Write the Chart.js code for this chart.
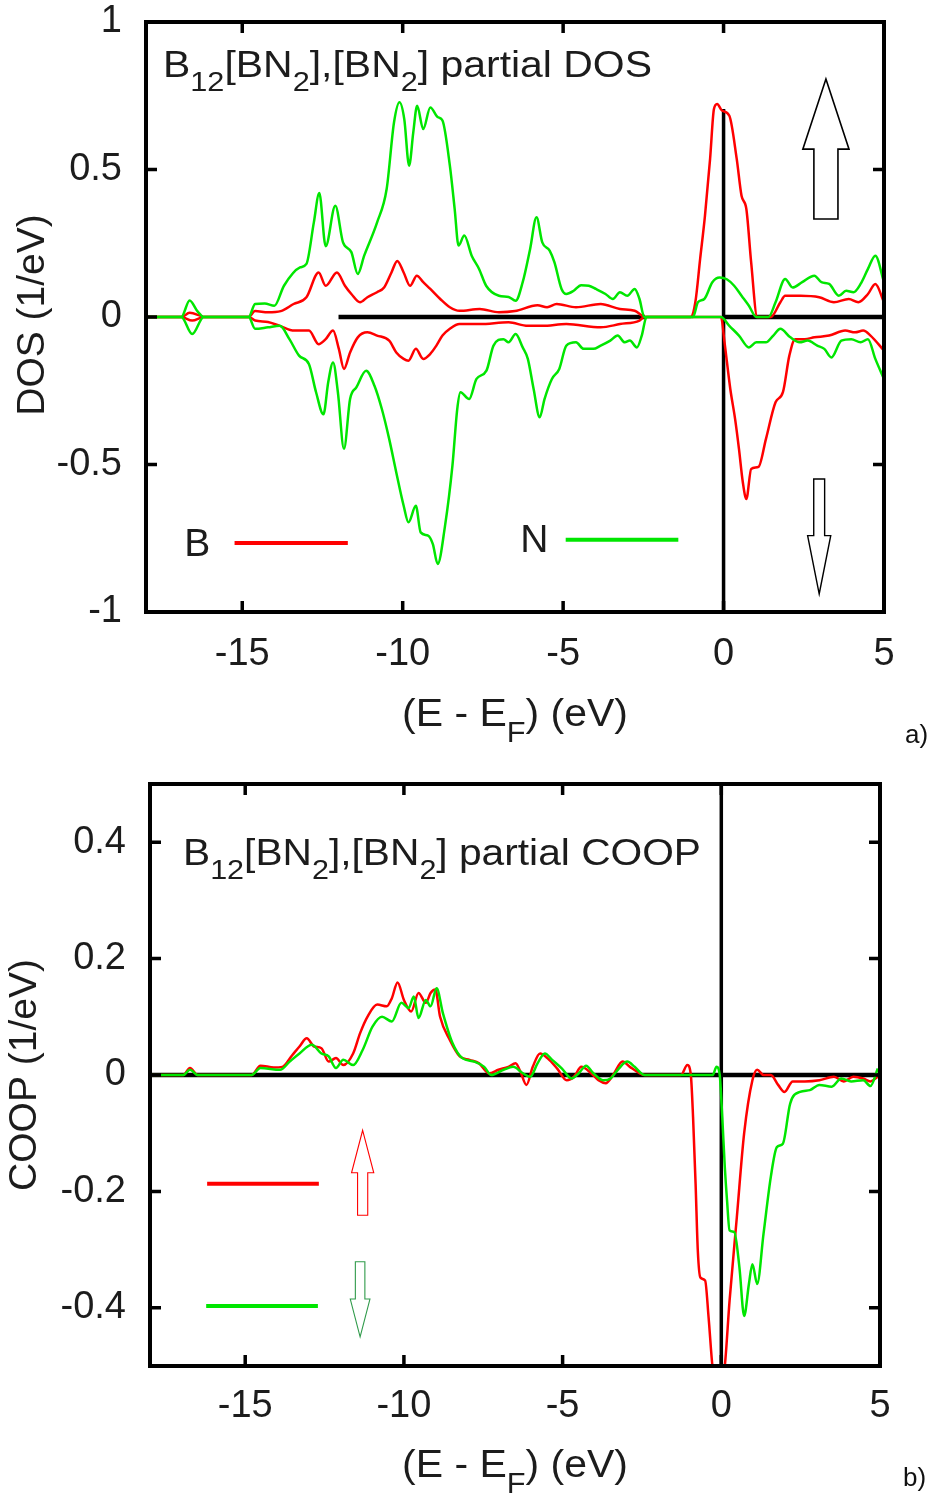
<!DOCTYPE html>
<html>
<head>
<meta charset="utf-8">
<script src="https://cdn.jsdelivr.net/npm/chart.js@4.4.1/dist/chart.umd.min.js"></script>
<style>
  html, body { margin: 0; padding: 0; background: #fff; }
  #page { position: relative; width: 935px; height: 1495px; overflow: hidden; }
  canvas { position: absolute; left: 0; }
  #dosChart { top: 0; }
  #coopChart { top: 750px; }
  .tag { position: absolute; font: 26px "Liberation Sans", Arial, sans-serif; line-height: 1; color: #111; }
</style>
</head>
<body>
<div id="page">
  <canvas id="dosChart" width="935" height="750"></canvas>
  <canvas id="coopChart" width="935" height="745"></canvas>
  <div class="tag" style="left:905px; top:721px;">a)</div>
  <div class="tag" style="left:903px; top:1464px;">b)</div>
</div>
<script>
// --- ticks ---
const energyTicks = [-15, -10, -5, 0, 5];
const dosTicks = [-1, -0.5, 0, 0.5, 1];
const coopTicks = [-0.4, -0.2, 0, 0.2, 0.4];

// --- partial DOS, [E (eV), DOS (1/eV)] ---
const dosBUp = [[-18,0],[-16.9,0],[-16.64,0.014],[-16.3,0.004],[-16.2,0],[-14.8,0],[-14.6,0.02],[-14.2,0.016],[-13.8,0.02],[-13.4,0.044],[-13.0,0.067],[-12.62,0.151],[-12.4,0.106],[-12.05,0.151],[-11.8,0.106],[-11.6,0.078],[-11.33,0.05],[-11.1,0.067],[-10.8,0.084],[-10.58,0.1],[-10.35,0.151],[-10.17,0.19],[-9.97,0.151],[-9.77,0.106],[-9.56,0.14],[-9.36,0.118],[-9.14,0.095],[-8.83,0.061],[-8.53,0.033],[-8.23,0.021],[-7.6,0.027],[-7.0,0.016],[-6.5,0.02],[-5.8,0.04],[-5.5,0.033],[-5.2,0.044],[-4.6,0.033],[-3.83,0.044],[-3.23,0.027],[-2.77,0.021],[-2.55,0.005],[-2.47,0],[-1.03,0],[-0.88,0.05],[-0.73,0.197],[-0.58,0.343],[-0.42,0.536],[-0.3,0.705],[-0.2,0.722],[-0.05,0.7],[0.18,0.682],[0.41,0.536],[0.56,0.411],[0.71,0.366],[0.86,0.185],[1.05,0],[1.47,0],[1.77,0.05],[1.92,0.072],[2.4,0.072],[2.98,0.067],[3.44,0.05],[3.9,0.061],[4.2,0.05],[4.5,0.078],[4.73,0.112],[5.0,0.05]];
const dosBDown = [[-18,0],[-16.9,0],[-16.56,-0.012],[-16.2,0],[-14.8,0],[-14.6,-0.012],[-14.2,-0.017],[-13.83,-0.03],[-13.38,-0.046],[-12.92,-0.046],[-12.62,-0.092],[-12.4,-0.075],[-12.17,-0.046],[-11.99,-0.108],[-11.83,-0.176],[-11.64,-0.12],[-11.4,-0.069],[-11.1,-0.052],[-10.8,-0.063],[-10.42,-0.08],[-10.2,-0.12],[-9.97,-0.142],[-9.82,-0.148],[-9.59,-0.108],[-9.36,-0.142],[-9.14,-0.125],[-8.95,-0.097],[-8.76,-0.063],[-8.53,-0.04],[-8.23,-0.024],[-7.6,-0.024],[-6.7,-0.018],[-6.1,-0.03],[-5.65,-0.03],[-4.9,-0.024],[-3.83,-0.035],[-3.23,-0.024],[-2.62,-0.012],[-2.47,0],[-0.08,0],[0.03,-0.086],[0.21,-0.244],[0.36,-0.346],[0.48,-0.447],[0.6,-0.56],[0.71,-0.617],[0.86,-0.515],[1.09,-0.508],[1.32,-0.414],[1.62,-0.289],[1.85,-0.255],[2.05,-0.131],[2.23,-0.075],[2.53,-0.075],[2.83,-0.069],[3.29,-0.063],[3.79,-0.046],[4.1,-0.052],[4.35,-0.046],[4.58,-0.063],[5.0,-0.114]];
const dosNUp = [[-18,0],[-16.9,0],[-16.64,0.056],[-16.4,0.02],[-16.2,0],[-14.8,0],[-14.6,0.044],[-14.3,0.046],[-14.0,0.038],[-13.7,0.106],[-13.2,0.168],[-13.0,0.18],[-12.77,0.32],[-12.6,0.42],[-12.4,0.24],[-12.1,0.377],[-11.86,0.253],[-11.6,0.22],[-11.4,0.146],[-11.2,0.208],[-10.8,0.32],[-10.5,0.434],[-10.27,0.66],[-10.1,0.728],[-9.95,0.67],[-9.8,0.513],[-9.67,0.626],[-9.55,0.716],[-9.36,0.637],[-9.14,0.71],[-8.9,0.677],[-8.76,0.666],[-8.53,0.513],[-8.38,0.366],[-8.26,0.242],[-8.08,0.276],[-7.85,0.208],[-7.62,0.163],[-7.4,0.106],[-7.0,0.072],[-6.7,0.068],[-6.48,0.055],[-6.26,0.118],[-6.03,0.23],[-5.83,0.338],[-5.65,0.253],[-5.42,0.225],[-5.27,0.185],[-5.05,0.095],[-4.9,0.078],[-4.67,0.089],[-4.44,0.108],[-4.2,0.106],[-3.98,0.095],[-3.68,0.078],[-3.45,0.061],[-3.23,0.084],[-3.0,0.072],[-2.77,0.095],[-2.62,0.061],[-2.47,0],[-0.95,0],[-0.8,0.05],[-0.6,0.061],[-0.35,0.118],[-0.12,0.134],[0.1,0.128],[0.33,0.106],[0.56,0.072],[0.79,0.038],[1.02,0],[1.4,0],[1.62,0.05],[1.92,0.129],[2.15,0.1],[2.45,0.118],[2.83,0.14],[3.05,0.118],[3.29,0.112],[3.59,0.072],[3.82,0.089],[4.05,0.084],[4.27,0.112],[4.5,0.163],[4.73,0.208],[5.0,0.118]];
const dosNDown = [[-18,0],[-16.9,0],[-16.56,-0.058],[-16.2,0],[-14.8,0],[-14.6,-0.04],[-14.2,-0.035],[-13.83,-0.03],[-13.53,-0.075],[-13.23,-0.131],[-12.92,-0.16],[-12.7,-0.255],[-12.47,-0.33],[-12.32,-0.22],[-12.17,-0.154],[-12.02,-0.255],[-11.83,-0.447],[-11.64,-0.278],[-11.44,-0.238],[-11.14,-0.182],[-10.88,-0.233],[-10.65,-0.312],[-10.42,-0.414],[-10.2,-0.527],[-9.97,-0.64],[-9.82,-0.696],[-9.59,-0.64],[-9.44,-0.73],[-9.21,-0.741],[-9.06,-0.77],[-8.91,-0.837],[-8.68,-0.707],[-8.45,-0.504],[-8.3,-0.312],[-8.2,-0.255],[-7.93,-0.278],[-7.7,-0.21],[-7.39,-0.182],[-7.17,-0.097],[-6.86,-0.075],[-6.7,-0.086],[-6.48,-0.058],[-6.26,-0.103],[-6.1,-0.142],[-5.92,-0.244],[-5.73,-0.34],[-5.58,-0.278],[-5.35,-0.21],[-5.12,-0.176],[-4.9,-0.097],[-4.6,-0.086],[-4.36,-0.108],[-4.06,-0.108],[-3.83,-0.097],[-3.53,-0.08],[-3.3,-0.063],[-3.08,-0.086],[-2.92,-0.08],[-2.7,-0.103],[-2.55,-0.063],[-2.4,0],[-0.08,0],[0.18,-0.03],[0.48,-0.063],[0.79,-0.103],[1.02,-0.086],[1.32,-0.086],[1.55,-0.063],[1.77,-0.04],[2.07,-0.068],[2.37,-0.086],[2.62,-0.08],[2.92,-0.097],[3.14,-0.108],[3.36,-0.137],[3.67,-0.08],[3.98,-0.075],[4.27,-0.086],[4.5,-0.075],[4.73,-0.142],[5.0,-0.21]];

// --- partial COOP, [E (eV), COOP (1/eV)] ---
const coopUp = [[-18,0],[-16.95,0],[-16.74,0.012],[-16.5,0],[-14.8,0],[-14.52,0.016],[-14.1,0.013],[-13.83,0.014],[-13.52,0.034],[-13.29,0.049],[-13.06,0.063],[-12.83,0.049],[-12.6,0.046],[-12.37,0.023],[-12.14,0.029],[-11.91,0.017],[-11.6,0.037],[-11.38,0.072],[-11.15,0.1],[-10.84,0.121],[-10.54,0.118],[-10.38,0.132],[-10.2,0.159],[-10.0,0.129],[-9.77,0.109],[-9.54,0.141],[-9.31,0.124],[-9.16,0.141],[-9.01,0.147],[-8.86,0.1],[-8.55,0.06],[-8.24,0.032],[-7.93,0.026],[-7.63,0.02],[-7.32,0.003],[-7.02,0.009],[-6.71,0.014],[-6.48,0.02],[-6.33,0.006],[-6.14,-0.017],[-5.94,0.014],[-5.71,0.037],[-5.48,0.029],[-5.17,0.011],[-4.87,-0.009],[-4.64,-0.003],[-4.41,0.014],[-4.1,0.003],[-3.87,-0.009],[-3.64,-0.014],[-3.41,0],[-3.11,0.023],[-2.88,0.014],[-2.57,0.003],[-2.4,0],[-1.27,0],[-1.07,0.017],[-0.96,0],[-0.89,-0.072],[-0.81,-0.187],[-0.74,-0.302],[-0.66,-0.348],[-0.51,-0.353],[-0.4,-0.417],[-0.28,-0.5],[-0.1,-0.56],[0.11,-0.5],[0.26,-0.388],[0.49,-0.244],[0.72,-0.1],[0.98,-0.009],[1.13,0.009],[1.33,0],[1.56,0],[1.79,-0.017],[1.99,-0.029],[2.25,-0.011],[2.63,-0.011],[3.09,-0.009],[3.55,-0.003],[3.86,-0.011],[4.16,-0.003],[4.47,-0.006],[4.7,-0.011],[4.93,-0.003]];
const coopDown = [[-18,0],[-16.95,0],[-16.74,0.009],[-16.5,0],[-14.8,0],[-14.52,0.012],[-13.9,0.009],[-13.6,0.023],[-13.29,0.037],[-12.9,0.052],[-12.6,0.037],[-12.37,0.032],[-12.14,0.012],[-11.91,0.026],[-11.6,0.017],[-11.3,0.043],[-10.99,0.083],[-10.69,0.1],[-10.38,0.092],[-10.08,0.124],[-9.85,0.115],[-9.69,0.135],[-9.54,0.098],[-9.31,0.129],[-9.16,0.118],[-8.97,0.149],[-8.77,0.106],[-8.47,0.055],[-8.16,0.029],[-7.78,0.023],[-7.47,0.014],[-7.25,0],[-6.86,0.009],[-6.56,0.014],[-6.25,0.003],[-6.02,-0.003],[-5.79,0.02],[-5.56,0.037],[-5.33,0.026],[-5.02,0.011],[-4.72,-0.006],[-4.49,0.003],[-4.26,0.016],[-4.03,0.003],[-3.72,-0.009],[-3.49,-0.006],[-3.26,0.009],[-2.96,0.023],[-2.73,0.014],[-2.42,0],[-0.27,0],[-0.15,0.014],[-0.05,0],[0.03,-0.072],[0.11,-0.158],[0.18,-0.215],[0.26,-0.267],[0.41,-0.27],[0.57,-0.33],[0.72,-0.414],[0.87,-0.359],[0.98,-0.325],[1.13,-0.359],[1.33,-0.273],[1.56,-0.175],[1.75,-0.124],[1.94,-0.118],[2.17,-0.049],[2.48,-0.029],[2.79,-0.026],[3.09,-0.017],[3.48,-0.02],[3.78,-0.006],[4.09,-0.011],[4.47,-0.009],[4.7,-0.019],[4.93,0.011]];

// --- reference lines (E_F and zero) ---
const dosFermi = [[0,-1],[0,0.705]];
const dosZeroLeft = [[-12,0],[-2.45,0]];
const dosZeroRight = [[0,0],[5,0]];
const coopFermi = [[0,-0.5],[0,0.5]];
const coopZero = [[-18,0],[5,0]];

const FONT = '"Liberation Sans", Arial, sans-serif';
const RED = '#ff0000';
const GREEN = '#00e600';
const INK = '#1c1c1c';

// text with subscripts: parts = [[text, isSub], ...]
function drawRich(ctx, parts, x, y, size, opt = {}) {
  const subSize = size * 0.75, drop = size * 0.4;
  let w = 0;
  parts.forEach(([t, sub]) => {
    ctx.font = `${sub ? subSize : size}px ${FONT}`;
    w += ctx.measureText(t).width;
  });
  const sx = opt.width ? opt.width / w : 1;
  const x0 = opt.center ? x - (w * sx) / 2 : x;
  ctx.save();
  ctx.translate(x0, y);
  ctx.scale(sx, 1);
  ctx.fillStyle = INK;
  ctx.textAlign = 'left';
  ctx.textBaseline = 'alphabetic';
  let cx = 0;
  parts.forEach(([t, sub]) => {
    ctx.font = `${sub ? subSize : size}px ${FONT}`;
    ctx.fillText(t, cx, sub ? drop : 0);
    cx += ctx.measureText(t).width;
  });
  ctx.restore();
}

function drawArrow(ctx, x, y, a) {
  const cx = x.getPixelForValue(a.e);
  const hh = Math.abs(x.getPixelForValue(a.e + a.head) - cx);
  const sh = Math.abs(x.getPixelForValue(a.e + a.shaft) - cx);
  const tip = y.getPixelForValue(a.tip);
  const base = y.getPixelForValue(a.base);
  const tail = y.getPixelForValue(a.tail);
  ctx.beginPath();
  ctx.moveTo(cx, tip);
  ctx.lineTo(cx + hh, base);
  ctx.lineTo(cx + sh, base);
  ctx.lineTo(cx + sh, tail);
  ctx.lineTo(cx - sh, tail);
  ctx.lineTo(cx - sh, base);
  ctx.lineTo(cx - hh, base);
  ctx.closePath();
  ctx.fillStyle = '#fff';
  ctx.fill();
  ctx.strokeStyle = a.color;
  ctx.lineWidth = a.lw;
  ctx.stroke();
}

const decor = {
  id: 'decor',
  afterDraw(chart, args, o) {
    const { ctx, chartArea: a } = chart;
    const { x, y } = chart.scales;
    ctx.save();

    // legend keys
    (o.keys || []).forEach(k => {
      const py = y.getPixelForValue(k.y);
      ctx.strokeStyle = k.color;
      ctx.lineWidth = 4;
      ctx.beginPath();
      ctx.moveTo(x.getPixelForValue(k.from), py);
      ctx.lineTo(x.getPixelForValue(k.to), py);
      ctx.stroke();
      if (k.label) {
        ctx.fillStyle = INK;
        ctx.font = `39px ${FONT}`;
        ctx.textAlign = 'center';
        ctx.textBaseline = 'middle';
        ctx.fillText(k.label, x.getPixelForValue(k.labelE), py + 2);
      }
    });

    (o.arrows || []).forEach(ar => drawArrow(ctx, x, y, ar));

    // frame with inward ticks on all four sides
    ctx.strokeStyle = '#000';
    ctx.lineWidth = 4;
    ctx.strokeRect(a.left, a.top, a.right - a.left, a.bottom - a.top);
    ctx.lineWidth = 3.5;
    ctx.beginPath();
    x.ticks.forEach(t => {
      const px = x.getPixelForValue(t.value);
      ctx.moveTo(px, a.bottom); ctx.lineTo(px, a.bottom - 11);
      ctx.moveTo(px, a.top); ctx.lineTo(px, a.top + 11);
    });
    y.ticks.forEach(t => {
      const py = y.getPixelForValue(t.value);
      ctx.moveTo(a.left, py); ctx.lineTo(a.left + 11, py);
      ctx.moveTo(a.right, py); ctx.lineTo(a.right - 11, py);
    });
    ctx.stroke();

    // titles
    drawRich(ctx, o.title, o.titleX, o.titleY, 36, { width: o.titleW });
    drawRich(ctx, [['(E - E', 0], ['F', 1], [') (eV)', 0]], 515, o.xTitleY, 39, { center: true, width: 226 });
    ctx.save();
    ctx.translate(o.yTitleX, o.yTitleY);
    ctx.rotate(-Math.PI / 2);
    ctx.fillStyle = INK;
    ctx.font = `39px ${FONT}`;
    ctx.textAlign = 'center';
    ctx.textBaseline = 'middle';
    ctx.fillText(o.yTitle, 0, 0);
    ctx.restore();

    ctx.restore();
  }
};

function curve(data, color, order) {
  return { data, borderColor: color, borderWidth: 2.5, pointRadius: 0, fill: false,
           cubicInterpolationMode: 'monotone', order };
}
function refLine(data, width) {
  return { data, borderColor: '#000', borderWidth: width, pointRadius: 0, fill: false, order: 10 };
}

function axes(ticksY, ymin, ymax, yWidth, xHeight, xPad) {
  return {
    x: {
      type: 'linear', min: -18, max: 5,
      afterBuildTicks: s => { s.ticks = energyTicks.map(v => ({ value: v })); },
      afterFit: s => { s.height = xHeight; s.paddingLeft = 0; s.paddingRight = 0; },
      grid: { display: false, drawTicks: false },
      border: { display: false },
      ticks: { font: { family: FONT, size: 38 }, color: INK, padding: xPad, maxRotation: 0,
               autoSkip: false, callback: v => String(v) }
    },
    y: {
      type: 'linear', min: ymin, max: ymax,
      afterBuildTicks: s => { s.ticks = ticksY.map(v => ({ value: v })); },
      afterFit: s => { s.width = yWidth; s.paddingTop = 0; s.paddingBottom = 0; },
      grid: { display: false, drawTicks: false },
      border: { display: false },
      ticks: { font: { family: FONT, size: 38 }, color: INK, padding: 24, autoSkip: false,
               callback: v => String(v) }
    }
  };
}

const sub2 = ['2', 1];

new Chart(document.getElementById('dosChart'), {
  type: 'line',
  data: {
    datasets: [
      curve(dosNUp, GREEN, 1),
      curve(dosNDown, GREEN, 1),
      curve(dosBUp, RED, 2),
      curve(dosBDown, RED, 2),
      refLine(dosFermi, 3.5),
      refLine(dosZeroLeft, 4.5),
      refLine(dosZeroRight, 4.5)
    ]
  },
  options: {
    responsive: false,
    devicePixelRatio: 1,
    animation: false,
    events: [],
    layout: { padding: { left: 0, top: 22, right: 51, bottom: 0 } },
    scales: axes(dosTicks, -1, 1, 146, 138, 20),
    plugins: {
      legend: { display: false },
      tooltip: { enabled: false },
      decor: {
        title: [['B', 0], ['12', 1], ['[BN', 0], sub2, ['],[BN', 0], sub2, ['] partial DOS', 0]],
        titleX: 163, titleY: 77, titleW: 489,
        xTitleY: 726,
        yTitle: 'DOS (1/eV)', yTitleX: 33, yTitleY: 315,
        keys: [
          { label: 'B', labelE: -16.4, from: -15.24, to: -11.71, y: -0.766, color: RED },
          { label: 'N', labelE: -5.9, from: -4.92, to: -1.41, y: -0.755, color: GREEN }
        ],
        arrows: [
          { e: 3.19, tip: 0.807, base: 0.569, tail: 0.332, head: 0.72, shaft: 0.375, color: '#000', lw: 1.6 },
          { e: 2.98, tip: -0.939, base: -0.741, tail: -0.549, head: 0.36, shaft: 0.17, color: '#000', lw: 1.4 }
        ]
      }
    }
  },
  plugins: [decor]
});

new Chart(document.getElementById('coopChart'), {
  type: 'line',
  data: {
    datasets: [
      curve(coopDown, GREEN, 1),
      curve(coopUp, RED, 2),
      refLine(coopFermi, 3.5),
      refLine(coopZero, 4.5)
    ]
  },
  options: {
    responsive: false,
    devicePixelRatio: 1,
    animation: false,
    events: [],
    layout: { padding: { left: 0, top: 34, right: 55, bottom: 0 } },
    scales: axes(coopTicks, -0.5, 0.5, 150, 129, 18),
    plugins: {
      legend: { display: false },
      tooltip: { enabled: false },
      decor: {
        title: [['B', 0], ['12', 1], ['[BN', 0], sub2, ['],[BN', 0], sub2, ['] partial COOP', 0]],
        titleX: 183, titleY: 115, titleW: 518,
        xTitleY: 727,
        yTitle: 'COOP (1/eV)', yTitleX: 25, yTitleY: 325,
        keys: [
          { from: -16.2, to: -12.68, y: -0.187, color: RED },
          { from: -16.23, to: -12.71, y: -0.397, color: GREEN }
        ],
        arrows: [
          { e: -11.3, tip: -0.095, base: -0.168, tail: -0.241, head: 0.35, shaft: 0.16, color: RED, lw: 1.1 },
          { e: -11.38, tip: -0.45, base: -0.385, tail: -0.321, head: 0.31, shaft: 0.15, color: '#2f9a4a', lw: 1.1 }
        ]
      }
    }
  },
  plugins: [decor]
});
</script>
</body>
</html>
